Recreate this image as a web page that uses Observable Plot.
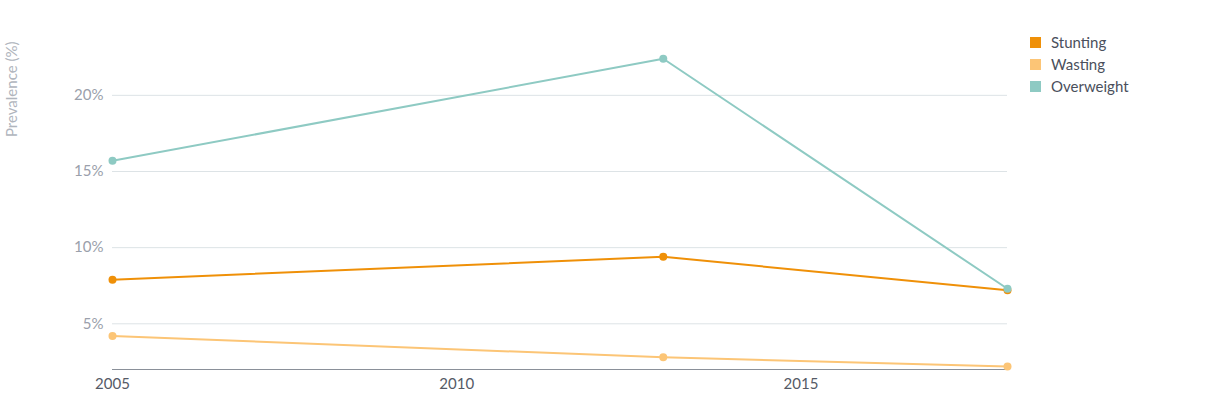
<!DOCTYPE html>
<html><head><meta charset="utf-8">
<script src="https://cdn.jsdelivr.net/npm/d3@7"></script>
<script src="https://cdn.jsdelivr.net/npm/@observablehq/plot@0.6"></script>
<style>
body{margin:0;font-family:Lato,"Noto Sans",sans-serif;background:#fff}
#wrap{position:relative;width:1230px;height:403px}
#legend{position:absolute;left:1030px;top:31px;font-size:15px;color:#4a4f5c}
#legend div{height:22px;display:flex;align-items:center}
#legend span{display:inline-block;width:11px;height:11px;margin-right:10px}
</style></head><body>
<div id="wrap"><div id="chart"></div><div id="legend"></div></div>
<script>
const years=[2005,2013,2018];
const series=["Stunting","Wasting","Overweight"];
const colors=["#ef9008","#fcc576","#8ecac3"];
const stunting=[7.9,9.4,7.2];
const wasting=[4.2,2.8,2.2];
const overweight=[15.7,22.4,7.3];
const yTicks=[5,10,15,20];
const vals=[stunting,wasting,overweight];
const data=[];
series.forEach((s,i)=>years.forEach((y,j)=>data.push({series:s,year:y,value:vals[i][j]})));
const chart=Plot.plot({
  width:1230,height:403,marginLeft:112,marginRight:223,marginTop:40,marginBottom:34,
  style:{fontFamily:"Lato, sans-serif",fontSize:"15px",color:"#9aa0ab"},
  x:{domain:[2005,2018],ticks:[2005,2010,2015],tickFormat:d=>String(d),tickSize:0,tickPadding:10,label:null},
  y:{domain:[2,23.6],ticks:yTicks,tickFormat:d=>d+"%",tickSize:0,tickPadding:6,label:null},
  color:{domain:series,range:colors},
  marks:[
    Plot.gridY(yTicks,{x1:2005,x2:2018,stroke:"#dde3e6",strokeOpacity:1}),
    Plot.axisY({ticks:yTicks,tickFormat:d=>d+"%",tickSize:0,textAnchor:"end",fill:"#9aa0ab",label:null}),
    Plot.text(["Prevalence (%)"],{frameAnchor:"left",dx:-100,dy:-68,rotate:-90,fill:"#b0b5bd",fontSize:15}),
    Plot.axisX({ticks:[2005,2010,2015],tickFormat:d=>String(d),tickSize:0,fill:"#555a66",label:null}),
    Plot.ruleY([2],{stroke:"#8a9099"}),
    Plot.line(data,{x:"year",y:"value",z:"series",stroke:"series",strokeWidth:2}),
    Plot.dot(data,{x:"year",y:"value",fill:"series",r:4})
  ]
});
document.getElementById("chart").appendChild(chart);
const lg=document.getElementById("legend");
series.forEach((s,i)=>{const d=document.createElement("div");d.innerHTML=`<span style="background:${colors[i]}"></span>${s}`;lg.appendChild(d);});
</script></body></html>
